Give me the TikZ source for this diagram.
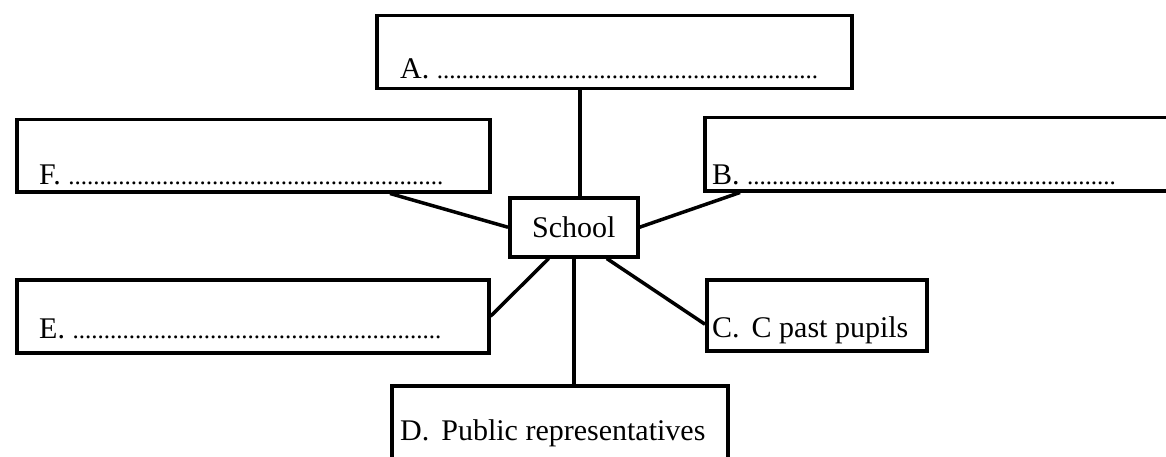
\documentclass[tikz,border=0pt]{standalone}
\usepackage{fontspec}
\setmainfont{Liberation Serif}
\newcommand{\tendots}{..........}
\newcommand{\dotsize}{\fontsize{25}{28}\selectfont}
\tikzset{
  box/.style={draw, line width=3.5pt, anchor=north west, inner sep=0pt},
  lbl/.style={anchor=base west, inner sep=0pt, font=\fontsize{30}{36}\selectfont},
  link/.style={line width=3.5pt}
}
\begin{document}
\begin{tikzpicture}[x=1pt,y=1pt]
\useasboundingbox (0,0) rectangle (1166,-457);
\clip (0,0) rectangle (1166,-457);
% boxes
\node[box, minimum width=475pt, minimum height=73pt] (A) at (375,-14) {};
\node[box, minimum width=473pt, minimum height=72pt] (F) at (15,-118) {};
\node[box, minimum width=500pt, minimum height=73pt] (B) at (703,-116) {};
\node[box, minimum width=128pt, minimum height=59pt] (S) at (508,-196) {};
\node[box, minimum width=472pt, minimum height=73pt] (E) at (15,-278) {};
\node[box, minimum width=220pt, minimum height=71pt] (C) at (705,-278) {};
\node[box, minimum width=336pt, minimum height=100pt] (D) at (390,-384) {};
% labels
\node[lbl] (At) at ([shift={(25,12)}]A.south west) {A.\ {\dotsize\tendots\tendots\tendots\tendots\tendots\tendots.}};
\node[lbl] (Ft) at ([shift={(24,9)}]F.south west) {F.\ {\dotsize\tendots\tendots\tendots\tendots\tendots\tendots}};
\node[lbl] (Bt) at ([shift={(9,8)}]B.south west) {B.\ {\dotsize\tendots\tendots\tendots\tendots\tendots.........}};
\node[lbl] (Et) at ([shift={(24,16)}]E.south west) {E.\ {\dotsize\tendots\tendots\tendots\tendots\tendots.........}};
\node[lbl] (Ct) at ([shift={(7,15)}]C.south west) {C.\hspace{12pt}C past pupils};
\node[lbl] (Dt) at ([shift={(10,-56)}]D.north west) {D.\hspace{12pt}Public representatives};
\node[inner sep=0pt, font=\fontsize{30}{36}\selectfont] (St) at (S.center) {School};
% connectors
\draw[link] ([xshift=6pt]S.north) -- ([xshift=6pt]S.north |- A.south);
\draw[link] ([xshift=375pt]F.south west) -- (S.west);
\draw[link] (S.east) -- ([xshift=37pt]B.south west);
\draw[link] ([xshift=-25pt]S.south) -- (E.east);
\draw[link] (S.south) -- (S.south |- D.north);
\draw[link] ([xshift=33pt]S.south) -- ([yshift=-9pt]C.west);
\end{tikzpicture}
\end{document}
